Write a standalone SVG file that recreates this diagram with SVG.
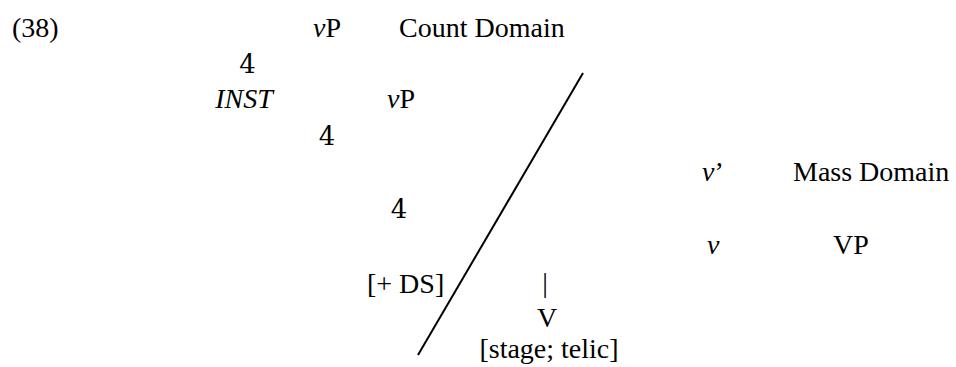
<svg xmlns="http://www.w3.org/2000/svg" width="956" height="367" viewBox="0 0 956 367">
<style type="text/css">
.t{font-size:28px;fill:#000}
.i{font-style:italic}
.m{font-size:26px;fill:#000}
</style>
<rect width="956" height="367" fill="#fff"/>
<g font-family="Liberation Serif" font-size="28" fill="#000">
<text class="t" x="12" y="37">(38)</text>
<g id="vP-top"><text class="t" x="313" y="37"><tspan class="i">v</tspan>P</text></g>
<g id="count-domain"><text class="t" x="399" y="37">Count Domain</text></g>
<g id="tri1"><text class="m" font-family="DejaVu Serif" x="247.5" y="73" text-anchor="middle">4</text></g>
<g id="inst"><text class="t i" x="244" y="108" text-anchor="middle">INST</text></g>
<g id="vP-mid"><text class="t" x="387" y="108"><tspan class="i">v</tspan>P</text></g>
<g id="tri2"><text class="m" font-family="DejaVu Serif" x="327" y="145" text-anchor="middle">4</text></g>
<g id="vbar"><text class="t" x="702" y="181"><tspan class="i">v</tspan>’</text></g>
<g id="mass-domain"><text class="t" x="793" y="181">Mass Domain</text></g>
<g id="tri3"><text class="m" font-family="DejaVu Serif" x="399" y="218" text-anchor="middle">4</text></g>
<g id="v"><text class="t i" x="707" y="254">v</text></g>
<g id="VP"><text class="t" x="833" y="254">VP</text></g>
<g id="ds"><text class="t" x="367" y="293">[+ DS]</text></g>
<g id="bar"><text class="t" x="545" y="292" text-anchor="middle">|</text></g>
<g id="V"><text class="t" x="547" y="327" text-anchor="middle">V</text></g>
<g id="stage"><text class="t" x="549" y="358" text-anchor="middle">[stage; telic]</text></g>
</g>
<g id="connectors"><line x1="583" y1="73" x2="418" y2="355" stroke="#000" stroke-width="2"/></g>
</svg>
